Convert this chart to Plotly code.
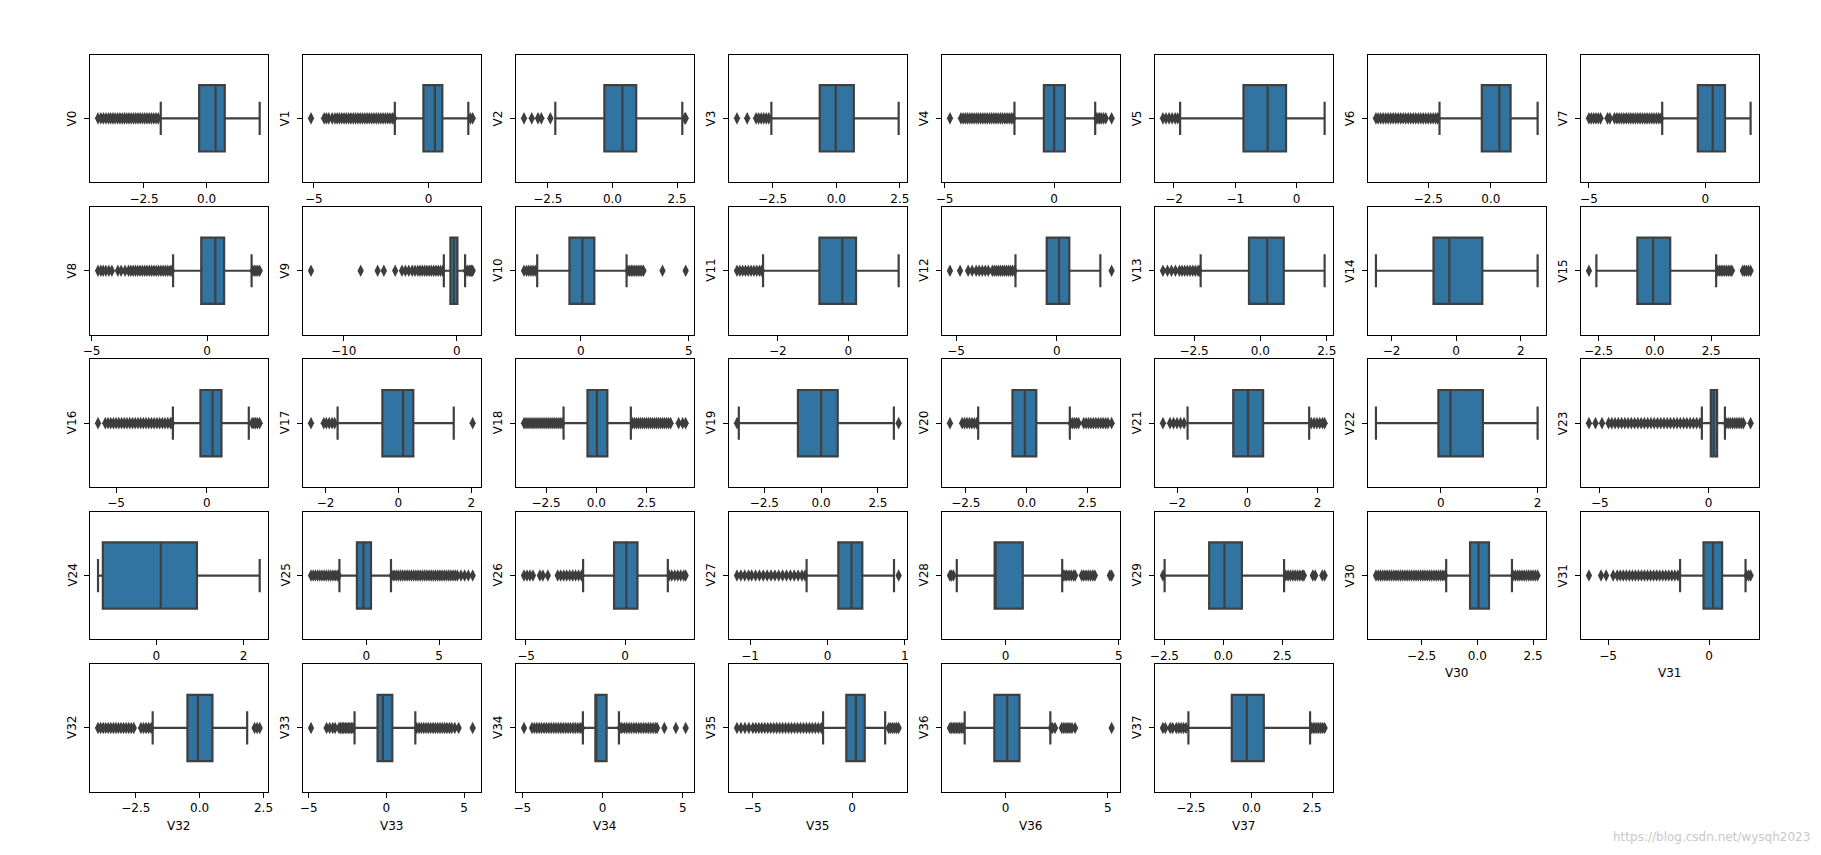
import plotly.graph_objects as go

W, H = 1821, 855

names = ["V0", "V1", "V2", "V3", "V4", "V5", "V6", "V7", "V8", "V9",
         "V10", "V11", "V12", "V13", "V14", "V15", "V16", "V17", "V18", "V19",
         "V20", "V21", "V22", "V23", "V24", "V25", "V26", "V27", "V28", "V29",
         "V30", "V31", "V32", "V33", "V34", "V35", "V36", "V37"]

q1 = [-0.297, -0.226, -0.313, -0.65, -0.47, -0.865, -0.36, -0.32, -0.25, -0.57,
      -0.52, -0.82, -0.5, -0.43, -0.7, -0.78, -0.35, -0.44, -0.44, -1.02,
      -0.58, -0.4, -0.05, 0.1, -1.23, -0.65, -0.56, 0.14, -0.48, -0.6,
      -0.33, -0.28, -0.48, -0.57, -0.45, -0.29, -0.55, -0.81]
med = [0.359, 0.273, 0.386, -0.02, 0.0, -0.47, 0.34, 0.32, 0.36, -0.26,
       0.08, -0.17, 0.11, 0.26, -0.21, -0.08, 0.32, 0.13, 0.03, 0.0,
       -0.07, 0.02, 0.2, 0.23, 0.1, -0.2, 0.06, 0.31, -0.48, 0.05,
       0.05, 0.19, -0.07, -0.23, -0.45, 0.2, 0.08, -0.19]
q3 = [0.726, 0.599, 0.918, 0.69, 0.49, -0.17, 0.79, 0.85, 0.74, 0.05,
      0.63, 0.22, 0.62, 0.88, 0.81, 0.68, 0.81, 0.41, 0.55, 0.73,
      0.4, 0.45, 0.87, 0.39, 0.93, 0.32, 0.62, 0.45, 0.76, 0.79,
      0.52, 0.64, 0.5, 0.38, 0.25, 0.64, 0.68, 0.51]
wlo = [-1.83, -1.47, -2.21, -2.55, -1.81, -1.9, -2.05, -1.85, -1.47, -1.15,
       -2.01, -2.42, -2.05, -2.25, -2.48, -2.6, -1.87, -1.67, -1.63, -3.62,
       -1.99, -1.7, -1.34, -0.31, -1.34, -1.85, -2.12, -0.27, -2.15, -2.49,
       -1.4, -1.44, -1.84, -2.05, -1.23, -1.46, -2.0, -2.6]
whi = [2.121, 1.73, 2.7, 2.45, 1.87, 0.46, 1.87, 1.95, 1.93, 0.73,
       2.12, 1.43, 2.16, 2.42, 2.52, 2.72, 2.32, 1.52, 1.72, 3.2,
       1.78, 1.76, 2.0, 0.75, 2.37, 1.69, 2.15, 0.86, 2.5, 2.58,
       1.55, 1.8, 1.86, 1.86, 1.02, 1.67, 2.19, 2.42]

ticks = [[-2.5, 0.0], [-5, 0], [-2.5, 0.0, 2.5], [-2.5, 0.0, 2.5], [-5, 0],
         [-2, -1, 0], [-2.5, 0.0], [-5, 0], [-5, 0], [-10, 0],
         [0, 5], [-2, 0], [-5, 0], [-2.5, 0.0, 2.5], [-2, 0, 2],
         [-2.5, 0.0, 2.5], [-5, 0], [-2, 0, 2], [-2.5, 0.0, 2.5], [-2.5, 0.0, 2.5],
         [-2.5, 0.0, 2.5], [-2, 0, 2], [0, 2], [-5, 0], [0, 2],
         [0, 5], [-5, 0], [-1, 0, 1], [0, 5], [-2.5, 0.0, 2.5],
         [-2.5, 0.0, 2.5], [-5, 0], [-2.5, 0.0, 2.5], [-5, 0, 5], [-5, 0, 5],
         [-5, 0], [0, 5], [-2.5, 0.0, 2.5]]

outliers = [
    # V0
    [-4.335, -4.22, -4.12, -4.02, -3.92, -3.83, -3.74, -3.65, -3.55, -3.46, -3.37, -3.28, -3.19,
     -3.1, -3.01, -2.92, -2.83, -2.74, -2.65, -2.56, -2.47, -2.38, -2.29, -2.2, -2.11, -2.02, -1.93],
    # V1
    [-5.12, -4.55, -4.45, -4.35, -4.2, -4.08, -3.98, -3.88, -3.78, -3.68, -3.58, -3.48, -3.38,
     -3.28, -3.18, -3.08, -2.98, -2.88, -2.78, -2.68, -2.58, -2.48, -2.38, -2.28, -2.18, -2.08,
     -1.98, -1.88, -1.78, -1.68, -1.58, -1.5, 1.82, 1.92],
    # V2
    [-3.42, -3.12, -2.88, -2.75, -2.4, 2.8, 2.83],
    # V3
    [-3.9, -3.5, -3.15, -3.05, -2.95, -2.85, -2.75, -2.65],
    # V4
    [-4.75, -4.25, -4.15, -4.05, -3.95, -3.85, -3.75, -3.65, -3.55, -3.45, -3.35, -3.25, -3.15,
     -3.05, -2.95, -2.85, -2.75, -2.65, -2.55, -2.45, -2.35, -2.25, -2.15, -2.05, -1.95, -1.87,
     1.92, 2.0, 2.08, 2.15, 2.25, 2.35, 2.62],
    # V5
    [-2.18, -2.13, -2.08, -2.03, -1.98, -1.94],
    # V6
    [-4.59, -4.5, -4.4, -4.3, -4.2, -4.1, -4.0, -3.9, -3.8, -3.7, -3.6, -3.5, -3.4, -3.3, -3.2,
     -3.1, -3.0, -2.9, -2.8, -2.7, -2.6, -2.5, -2.4, -2.3, -2.2, -2.12],
    # V7
    [-5.0, -4.9, -4.8, -4.7, -4.6, -4.5, -4.2, -4.1, -3.9, -3.8, -3.7, -3.6, -3.5, -3.4, -3.3,
     -3.2, -3.1, -3.0, -2.9, -2.8, -2.7, -2.6, -2.5, -2.4, -2.3, -2.2, -2.1, -2.0, -1.9],
    # V8
    [-4.72, -4.6, -4.5, -4.38, -4.25, -4.12, -3.86, -3.72, -3.55, -3.4, -3.3, -3.2, -3.1, -3.0,
     -2.9, -2.8, -2.7, -2.6, -2.5, -2.4, -2.3, -2.2, -2.1, -2.0, -1.9, -1.8, -1.7, -1.6, -1.52,
     1.98, 2.05, 2.12, 2.2, 2.28],
    # V9
    [-12.89, -8.5, -7.0, -6.45, -5.45, -4.85, -4.55, -4.25, -3.95, -3.7, -3.45, -3.25, -3.05,
     -2.85, -2.65, -2.45, -2.25, -2.05, -1.85, -1.65, -1.45, -1.25, 0.8, 0.95, 1.1, 1.2, 1.3, 1.4],
    # V10
    [-2.62, -2.5, -2.4, -2.3, -2.2, -2.1, 2.18, 2.26, 2.34, 2.42, 2.5, 2.58, 2.66, 2.74, 2.82,
     2.9, 3.78, 4.85],
    # V11
    [-3.16, -3.08, -3.0, -2.92, -2.84, -2.76, -2.68, -2.6, -2.52, -2.46],
    # V12
    [-5.3, -4.8, -4.4, -4.2, -4.0, -3.85, -3.7, -3.55, -3.4, -3.2, -3.1, -3.0, -2.9, -2.8, -2.7,
     -2.6, -2.5, -2.4, -2.3, -2.2, -2.1, 2.72],
    # V13
    [-3.67, -3.5, -3.35, -3.2, -3.05, -2.95, -2.85, -2.75, -2.65, -2.55, -2.45, -2.35, -2.3],
    # V14
    [],
    # V15
    [-2.93, 2.78, 2.86, 2.94, 3.02, 3.1, 3.18, 3.26, 3.34, 3.42, 3.9, 3.98, 4.06, 4.15, 4.25],
    # V16
    [-6.0, -5.6, -5.45, -5.3, -5.15, -5.0, -4.85, -4.7, -4.55, -4.4, -4.25, -4.1, -3.95, -3.8,
     -3.65, -3.5, -3.35, -3.2, -3.05, -2.9, -2.75, -2.6, -2.45, -2.3, -2.15, -2.0, -1.92,
     2.5, 2.6, 2.7, 2.8, 2.92],
    # V17
    [-2.4, -2.05, -1.98, -1.9, -1.82, -1.75, 2.04],
    # V18
    [-3.6, -3.5, -3.4, -3.3, -3.2, -3.1, -3.0, -2.9, -2.8, -2.7, -2.6, -2.5, -2.4, -2.3, -2.2,
     -2.1, -2.0, -1.9, -1.8, -1.7, 1.8, 1.9, 2.0, 2.1, 2.2, 2.3, 2.4, 2.5, 2.6, 2.7, 2.8, 2.9,
     3.0, 3.1, 3.2, 3.3, 3.4, 3.5, 3.6, 3.7, 4.1, 4.3, 4.45],
    # V19
    [-3.7, 3.41],
    # V20
    [-3.15, -2.65, -2.55, -2.45, -2.35, -2.25, -2.15, -2.05, 1.82, 1.9, 1.98, 2.06, 2.14, 2.35,
     2.45, 2.55, 2.65, 2.75, 2.85, 2.95, 3.05, 3.15, 3.25, 3.35, 3.5],
    # V21
    [-2.4, -2.2, -2.1, -2.0, -1.9, -1.8, 1.82, 1.9, 1.98, 2.06, 2.14, 2.2],
    # V22
    [],
    # V23
    [-5.5, -5.2, -4.9, -4.6, -4.45, -4.3, -4.15, -4.0, -3.85, -3.7, -3.55, -3.4, -3.25, -3.1,
     -2.95, -2.8, -2.65, -2.5, -2.35, -2.2, -2.05, -1.9, -1.75, -1.6, -1.45, -1.3, -1.15, -1.0,
     -0.85, -0.7, -0.55, -0.4, 0.8, 0.9, 1.0, 1.1, 1.2, 1.3, 1.4, 1.5, 1.6, 1.93],
    # V24
    [],
    # V25
    [-3.8, -3.65, -3.5, -3.35, -3.2, -3.05, -2.9, -2.75, -2.6, -2.45, -2.3, -2.15, -2.0, -1.9,
     1.75, 1.9, 2.05, 2.2, 2.35, 2.5, 2.65, 2.8, 2.95, 3.1, 3.25, 3.4, 3.55, 3.7, 3.85, 4.0,
     4.15, 4.3, 4.45, 4.6, 4.75, 4.9, 5.05, 5.2, 5.35, 5.5, 5.65, 5.8, 5.95, 6.1, 6.25, 6.5,
     6.75, 7.0, 7.3],
    # V26
    [-5.1, -4.95, -4.8, -4.65, -4.3, -4.15, -3.9, -3.4, -3.25, -3.1, -2.95, -2.8, -2.65, -2.5,
     -2.35, -2.2, 2.22, 2.35, 2.5, 2.65, 2.8, 2.95, 3.05],
    # V27
    [-1.17, -1.12, -1.07, -1.02, -0.98, -0.93, -0.88, -0.83, -0.78, -0.73, -0.68, -0.63, -0.58,
     -0.53, -0.48, -0.43, -0.38, -0.33, -0.29, 0.92],
    # V28
    [-2.45, -2.38, -2.3, 2.55, 2.62, 2.7, 2.8, 2.9, 3.0, 3.07, 3.36, 3.45, 3.55, 3.65, 3.75,
     3.85, 3.94, 4.6, 4.68],
    # V29
    [-2.56, 2.65, 2.75, 2.85, 2.95, 3.05, 3.15, 3.25, 3.35, 3.42, 3.8, 3.9, 4.2, 4.3],
    # V30
    [-4.55, -4.45, -4.35, -4.25, -4.15, -4.05, -3.95, -3.85, -3.75, -3.65, -3.55, -3.45, -3.35,
     -3.25, -3.15, -3.05, -2.95, -2.85, -2.75, -2.65, -2.55, -2.45, -2.35, -2.25, -2.15, -2.05,
     -1.95, -1.85, -1.75, -1.65, -1.55, -1.45, 1.6, 1.7, 1.8, 1.9, 2.0, 2.1, 2.2, 2.3, 2.4,
     2.5, 2.6, 2.7],
    # V31
    [-5.95, -5.35, -5.1, -4.75, -4.55, -4.4, -4.25, -4.1, -3.95, -3.8, -3.65, -3.5, -3.35, -3.2,
     -3.05, -2.9, -2.75, -2.6, -2.45, -2.3, -2.15, -2.0, -1.85, -1.7, -1.55, 1.85, 1.95, 2.05],
    # V32
    [-3.98, -3.88, -3.78, -3.68, -3.58, -3.48, -3.38, -3.28, -3.18, -3.08, -2.98, -2.88, -2.78,
     -2.68, -2.58, -2.3, -2.2, -2.1, -2.0, -1.9, 2.15, 2.25, 2.35],
    # V33
    [-4.85, -3.85, -3.65, -3.45, -3.3, -3.05, -2.95, -2.85, -2.75, -2.65, -2.55, -2.45, -2.35,
     -2.25, -2.15, 1.95, 2.1, 2.25, 2.4, 2.55, 2.7, 2.85, 3.0, 3.15, 3.3, 3.45, 3.6, 3.75, 3.9,
     4.05, 4.2, 4.4, 4.65, 5.55],
    # V34
    [-4.9, -4.4, -4.25, -4.1, -3.95, -3.8, -3.65, -3.5, -3.35, -3.2, -3.05, -2.9, -2.75, -2.6,
     -2.45, -2.3, -2.15, -2.0, -1.85, -1.7, -1.55, -1.4, -1.28, 1.08, 1.2, 1.35, 1.5, 1.65, 1.8,
     1.95, 2.1, 2.25, 2.4, 2.55, 2.7, 2.85, 3.0, 3.15, 3.3, 3.4, 3.85, 4.57, 5.18],
    # V35
    [-5.8, -5.6, -5.4, -5.2, -5.0, -4.85, -4.7, -4.55, -4.4, -4.25, -4.1, -3.95, -3.8, -3.65,
     -3.5, -3.35, -3.2, -3.05, -2.9, -2.75, -2.6, -2.45, -2.3, -2.15, -2.0, -1.85, -1.7, -1.55,
     1.85, 1.95, 2.05, 2.15, 2.25, 2.35],
    # V36
    [-2.72, -2.64, -2.56, -2.48, -2.4, -2.32, -2.24, -2.16, -2.08, 2.22, 2.3, 2.42, 2.75, 2.85,
     2.95, 3.05, 3.15, 3.25, 3.4, 5.19],
    # V37
    [-3.65, -3.55, -3.35, -3.25, -3.1, -3.0, -2.9, -2.8, -2.7, 2.48, 2.55, 2.62, 2.7, 2.78,
     2.86, 2.94, 3.02],
]

# panels with a visible x-axis title (nothing drawn below them)
xlabel_shown = ["V30", "V31", "V32", "V33", "V34", "V35", "V36", "V37"]

# ---------------------------------------------------------------- layout
NCOL = 8
LEFT0, COLSTEP, PW = 83.5, 214.4, 179.0
TOP0, ROWSTEP, PH = 54.6, 152.4, 127.5

BOX_FILL = "#3274a1"
LINE_COL = "#3f3f3f"
FLIER_COL = "#3d3d3d"
FONT = "DejaVu Sans"


def fmt(v, decimal):
    s = f"{abs(v):.1f}" if decimal else f"{int(round(abs(v)))}"
    return ("\u2212" + s) if v < 0 else s


fig = go.Figure()
layout = {}
annotations = []

for i, nm in enumerate(names):
    r, c = divmod(i, NCOL)
    left = LEFT0 + c * COLSTEP
    top = TOP0 + r * ROWSTEP
    xd = [left / W, (left + PW) / W]
    yd = [1 - (top + PH) / H, 1 - top / H]
    ax = "" if i == 0 else str(i + 1)

    vals = list(outliers[i]) + [wlo[i], whi[i]]
    lo, hi = min(vals), max(vals)
    pad = 0.05 * (hi - lo)

    decimal = any(abs(t - round(t)) > 1e-9 for t in ticks[i])
    layout["xaxis" + ax] = dict(
        domain=xd, anchor="y" + ax, range=[lo - pad, hi + pad],
        showline=True, mirror=True, linecolor="black", linewidth=1,
        ticks="outside", ticklen=5, tickwidth=1, tickcolor="black",
        tickvals=ticks[i], ticktext=[fmt(t, decimal) for t in ticks[i]],
        tickfont=dict(family=FONT, size=12, color="black"),
        showgrid=False, zeroline=False, fixedrange=True,
    )
    layout["yaxis" + ax] = dict(
        domain=yd, anchor="x" + ax, range=[0.5, -0.5],
        showline=True, mirror=True, linecolor="black", linewidth=1,
        ticks="outside", ticklen=5, tickwidth=1, tickcolor="black",
        tickvals=[0], ticktext=[""],
        showgrid=False, zeroline=False, fixedrange=True,
    )

    fig.add_trace(go.Box(
        q1=[q1[i]], median=[med[i]], q3=[q3[i]],
        lowerfence=[wlo[i]], upperfence=[whi[i]], y=[0],
        orientation="h", width=0.52, whiskerwidth=0.5,
        fillcolor=BOX_FILL, line=dict(color=LINE_COL, width=2.2),
        boxpoints=False, showlegend=False,
        xaxis="x" + ax, yaxis="y" + ax, hoverinfo="skip",
    ))
    if outliers[i]:
        fig.add_trace(go.Scatter(
            x=outliers[i], y=[0] * len(outliers[i]), mode="markers",
            marker=dict(symbol="diamond-tall", size=9, color=FLIER_COL,
                        line=dict(width=0)),
            showlegend=False, xaxis="x" + ax, yaxis="y" + ax, hoverinfo="skip",
        ))

    annotations.append(dict(
        text=nm, xref="paper", yref="paper",
        x=(left - 18) / W, y=1 - (top + PH / 2) / H,
        xanchor="center", yanchor="middle", textangle=-90, showarrow=False,
        font=dict(family=FONT, size=12, color="black"),
    ))
    if nm in xlabel_shown:
        annotations.append(dict(
            text=nm, xref="paper", yref="paper",
            x=(left + PW / 2) / W, y=1 - (top + PH + 34) / H,
            xanchor="center", yanchor="middle", showarrow=False,
            font=dict(family=FONT, size=12, color="black"),
        ))

annotations.append(dict(
    text="https://blog.csdn.net/wysqh2023", xref="paper", yref="paper",
    x=1817 / W, y=1 - 837 / H, xanchor="right", yanchor="middle",
    showarrow=False, font=dict(family=FONT, size=12, color="#c8c8c8"),
))

fig.update_layout(
    width=W, height=H, autosize=False,
    margin=dict(l=0, r=0, t=0, b=0),
    paper_bgcolor="white", plot_bgcolor="white",
    annotations=annotations,
    **layout,
)

fig.write_html("out.html")
